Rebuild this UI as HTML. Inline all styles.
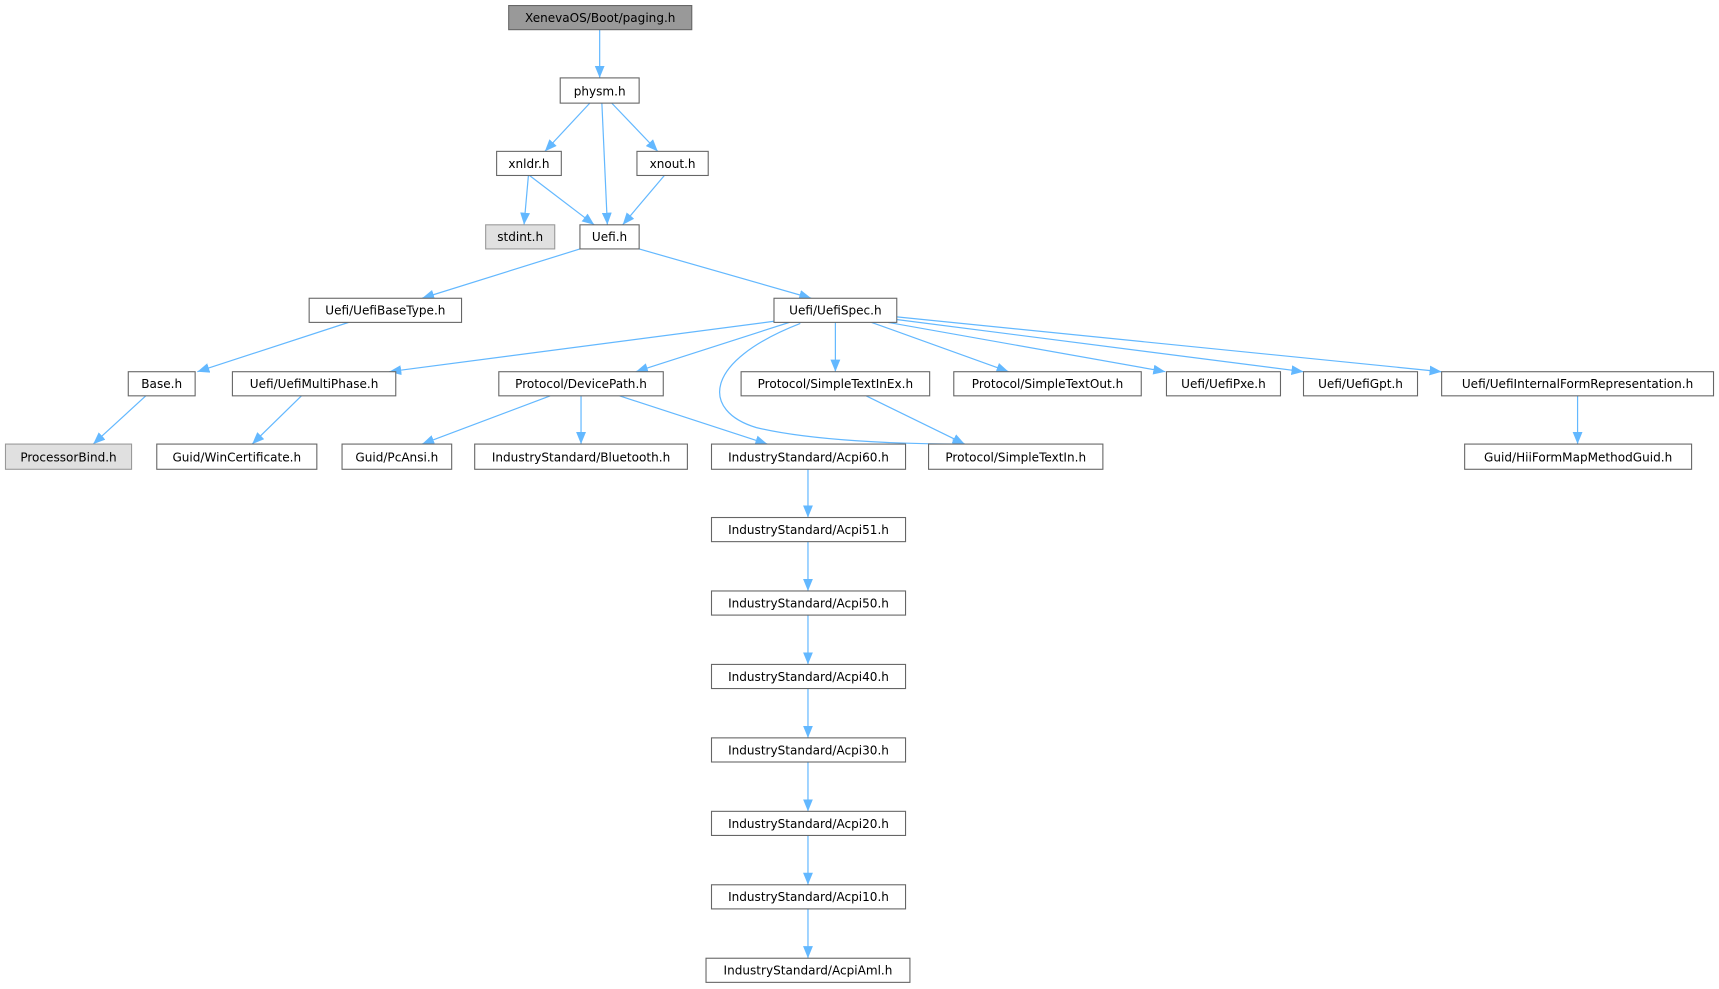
<!DOCTYPE html>
<html><head><meta charset="utf-8"><style>
html,body{margin:0;padding:0;background:#fff;}
svg{display:block;}
text{font-family:"DejaVu Sans","Liberation Sans",sans-serif;font-size:11px;fill:#000;}
</style></head><body>
<svg width="1719" height="989" viewBox="0 0 1568 902" xmlns="http://www.w3.org/2000/svg">
<defs><marker id="a" markerWidth="11" markerHeight="9" refX="11" refY="4.5" orient="auto" markerUnits="userSpaceOnUse"><path d="M0,0 L11,4.5 L0,9 Z" fill="#63b8ff"/></marker></defs>
<g stroke="#63b8ff" stroke-width="1.1" fill="none" marker-end="url(#a)">
<path d="M547,27 L547,71"/>
<path d="M538,94 L497,138"/>
<path d="M549,94 L554,205"/>
<path d="M558,94 L600,138"/>
<path d="M482,160 L478,205"/>
<path d="M483,160 L542,205"/>
<path d="M606,160 L568,205"/>
<path d="M529,227 L385,272"/>
<path d="M583,227 L740,272"/>
<path d="M318,294 L180,339"/>
<path d="M706,293 L355,339"/>
<path d="M720,294 L580,339"/>
<path d="M730,295 C640,330 640,375 690,390 C740,402 820,405 880,405"/>
<path d="M762,294 L762,339"/>
<path d="M795,294 L920,339"/>
<path d="M810,294 L1063,339"/>
<path d="M815,291 L1189,339"/>
<path d="M818,289 L1315,339"/>
<path d="M133,361 L85,405"/>
<path d="M275,361 L230,405"/>
<path d="M502,361 L385,405"/>
<path d="M530,361 L530,405"/>
<path d="M565,361 L700,405"/>
<path d="M790,361 L880,405"/>
<path d="M1439,361 L1439,405"/>
<path d="M737,428 L737,472"/>
<path d="M737,494 L737,539"/>
<path d="M737,561 L737,606"/>
<path d="M737,628 L737,673"/>
<path d="M737,695 L737,740"/>
<path d="M737,762 L737,807"/>
<path d="M737,829 L737,874"/>
</g>
<g stroke="#666" stroke-width="1" text-anchor="middle">
<rect x="464" y="5" width="167" height="22" fill="#999"/><text x="547.5" y="20" stroke="none">XenevaOS/Boot/paging.h</text>
<rect x="511" y="71" width="72" height="23" fill="#fff"/><text x="547" y="87" stroke="none">physm.h</text>
<rect x="453" y="138" width="59" height="22" fill="#fff"/><text x="482.5" y="153" stroke="none">xnldr.h</text>
<rect x="581" y="138" width="65" height="22" fill="#fff"/><text x="613.5" y="153" stroke="none">xnout.h</text>
<rect x="443" y="205" width="63" height="22" fill="#e0e0e0" stroke="#999"/><text x="474.5" y="220" stroke="none">stdint.h</text>
<rect x="529" y="205" width="54" height="22" fill="#fff"/><text x="556" y="220" stroke="none">Uefi.h</text>
<rect x="282" y="272" width="139" height="22" fill="#fff"/><text x="351.5" y="287" stroke="none">Uefi/UefiBaseType.h</text>
<rect x="706" y="272" width="112" height="22" fill="#fff"/><text x="762" y="287" stroke="none">Uefi/UefiSpec.h</text>
<rect x="117" y="339" width="61" height="22" fill="#fff"/><text x="147.5" y="354" stroke="none">Base.h</text>
<rect x="212" y="339" width="149" height="22" fill="#fff"/><text x="286.5" y="354" stroke="none">Uefi/UefiMultiPhase.h</text>
<rect x="455" y="339" width="150" height="22" fill="#fff"/><text x="530" y="354" stroke="none">Protocol/DevicePath.h</text>
<rect x="676" y="339" width="172" height="22" fill="#fff"/><text x="762" y="354" stroke="none">Protocol/SimpleTextInEx.h</text>
<rect x="870" y="339" width="171" height="22" fill="#fff"/><text x="955.5" y="354" stroke="none">Protocol/SimpleTextOut.h</text>
<rect x="1064" y="339" width="104" height="22" fill="#fff"/><text x="1116" y="354" stroke="none">Uefi/UefiPxe.h</text>
<rect x="1189" y="339" width="104" height="22" fill="#fff"/><text x="1241" y="354" stroke="none">Uefi/UefiGpt.h</text>
<rect x="1315" y="339" width="248" height="22" fill="#fff"/><text x="1439" y="354" stroke="none">Uefi/UefiInternalFormRepresentation.h</text>
<rect x="5" y="405" width="115" height="23" fill="#e0e0e0" stroke="#999"/><text x="62.5" y="421" stroke="none">ProcessorBind.h</text>
<rect x="143" y="405" width="146" height="23" fill="#fff"/><text x="216" y="421" stroke="none">Guid/WinCertificate.h</text>
<rect x="312" y="405" width="100" height="23" fill="#fff"/><text x="362" y="421" stroke="none">Guid/PcAnsi.h</text>
<rect x="433" y="405" width="194" height="23" fill="#fff"/><text x="530" y="421" stroke="none">IndustryStandard/Bluetooth.h</text>
<rect x="649" y="405" width="177" height="23" fill="#fff"/><text x="737.5" y="421" stroke="none">IndustryStandard/Acpi60.h</text>
<rect x="847" y="405" width="159" height="23" fill="#fff"/><text x="926.5" y="421" stroke="none">Protocol/SimpleTextIn.h</text>
<rect x="1336" y="405" width="207" height="23" fill="#fff"/><text x="1439.5" y="421" stroke="none">Guid/HiiFormMapMethodGuid.h</text>
<rect x="649" y="472" width="177" height="22" fill="#fff"/><text x="737.5" y="487" stroke="none">IndustryStandard/Acpi51.h</text>
<rect x="649" y="539" width="177" height="22" fill="#fff"/><text x="737.5" y="554" stroke="none">IndustryStandard/Acpi50.h</text>
<rect x="649" y="606" width="177" height="22" fill="#fff"/><text x="737.5" y="621" stroke="none">IndustryStandard/Acpi40.h</text>
<rect x="649" y="673" width="177" height="22" fill="#fff"/><text x="737.5" y="688" stroke="none">IndustryStandard/Acpi30.h</text>
<rect x="649" y="740" width="177" height="22" fill="#fff"/><text x="737.5" y="755" stroke="none">IndustryStandard/Acpi20.h</text>
<rect x="649" y="807" width="177" height="22" fill="#fff"/><text x="737.5" y="822" stroke="none">IndustryStandard/Acpi10.h</text>
<rect x="644" y="874" width="186" height="22" fill="#fff"/><text x="737" y="889" stroke="none">IndustryStandard/AcpiAml.h</text>
</g>
</svg>
</body></html>
